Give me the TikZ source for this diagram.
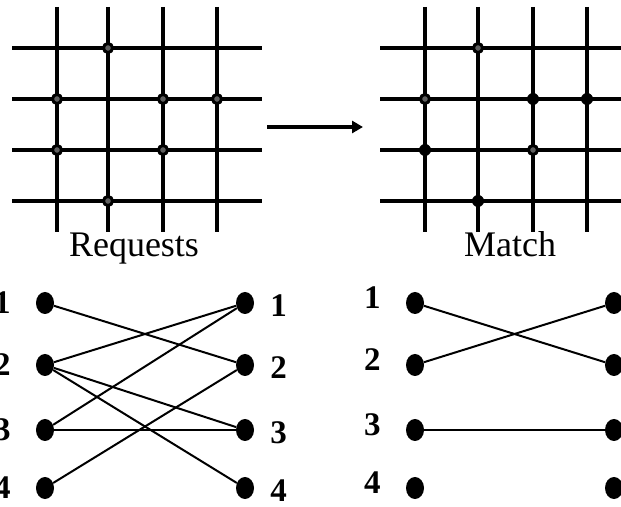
\documentclass[tikz,border=0pt]{standalone}
\usepackage{fontspec}
\setmainfont{Liberation Serif}
\usetikzlibrary{shapes.geometric,arrows.meta,positioning}

\begin{document}
\begin{tikzpicture}[x=1pt,y=1pt,node distance=25pt,
  wire/.style={line width=4pt},
  link/.style={line width=2pt},
  req/.style={circle,draw,line width=3pt,fill=gray!75!black,inner sep=0pt,minimum size=9pt},
  grant/.style={circle,fill,inner sep=0pt,minimum size=12pt},
  port/.style={ellipse,fill,inner sep=0pt,minimum width=18pt,minimum height=22pt},
  num/.style={font=\fontsize{33}{36}\selectfont\bfseries,inner sep=0pt},
  title/.style={font=\fontsize{36}{40}\selectfont,anchor=base},
  arr/.style={-{Triangle[length=11pt,width=12pt]},line width=4pt}]
\useasboundingbox (0,0) rectangle (621,506);
% request grid
\draw[wire] (57,499)--(57,274) (108,499)--(108,274) (163,499)--(163,274) (217,499)--(217,274);
\draw[wire] (12,458)--(262,458) (12,407)--(262,407) (12,356)--(262,356) (12,305)--(262,305);
\node[req] (q12) at (108,458) {};
\node[req] (q21) at (57,407) {};\node[req] (q23) at (163,407) {};\node[req] (q24) at (217,407) {};
\node[req] (q31) at (57,356) {};\node[req] (q33) at (163,356) {};
\node[req] (q42) at (108,305) {};
% match grid
\draw[wire] (425,499)--(425,274) (478,499)--(478,274) (533,499)--(533,274) (587,499)--(587,274);
\draw[wire] (380,458)--(630,458) (380,407)--(630,407) (380,356)--(630,356) (380,305)--(630,305);
\node[req] (m12) at (478,458) {};
\node[req] (m21) at (425,407) {};\node[grant] (m23) at (533,407) {};\node[grant] (m24) at (587,407) {};
\node[grant] (m31) at (425,356) {};\node[req] (m33) at (533,356) {};
\node[grant] (m42) at (478,305) {};
\coordinate (tail) at (267,379);\coordinate (head) at (363,379);
\draw[arr] (tail)--(head);
\node[title] (reqtitle) at (134,249) {Requests};
\node[title] (mattitle) at (510,249) {Match};
% request graph
\node[port] (a1) at (45,203) {};\node[port] (a2) at (45,141) {};\node[port] (a3) at (45,76) {};\node[port] (a4) at (45,18) {};
\node[port] (b1) at (245,203) {};\node[port] (b2) at (245,141) {};\node[port] (b3) at (245,76) {};\node[port] (b4) at (245,18) {};
\node[num,left=of a1] (na1) {1};\node[num,left=of a2] (na2) {2};\node[num,left=of a3] (na3) {3};\node[num,left=of a4] (na4) {4};
\node[num,right=16pt of b1,yshift=-3pt] (nb1) {1};\node[num,right=16pt of b2,yshift=-3pt] (nb2) {2};
\node[num,right=16pt of b3,yshift=-3pt] (nb3) {3};\node[num,right=16pt of b4,yshift=-3pt] (nb4) {4};
\draw[link] (a1)--(b2);\draw[link] (a2)--(b1);\draw[link] (a2)--(b3);\draw[link] (a2)--(b4);
\draw[link] (a3)--(b1);\draw[link] (a3)--(b3);\draw[link] (a4)--(b2);
% match graph
\node[port] (c1) at (415,203) {};\node[port] (c2) at (415,141) {};\node[port] (c3) at (415,76) {};\node[port] (c4) at (415,18) {};
\node[port] (d1) at (614,203) {};\node[port] (d2) at (614,141) {};\node[port] (d3) at (614,76) {};\node[port] (d4) at (614,18) {};
\node[num,left=of c1,yshift=5pt] (nc1) {1};\node[num,left=of c2,yshift=5pt] (nc2) {2};
\node[num,left=of c3,yshift=5pt] (nc3) {3};\node[num,left=of c4,yshift=5pt] (nc4) {4};
\draw[link] (c1)--(d2);\draw[link] (c2)--(d1);\draw[link] (c3)--(d3);
\end{tikzpicture}
\end{document}
